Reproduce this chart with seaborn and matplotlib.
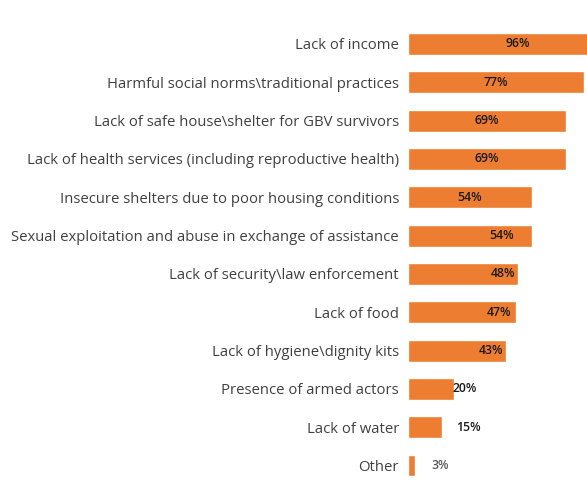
import matplotlib
matplotlib.use("Agg")
import matplotlib.pyplot as plt
import seaborn as sns
import pandas as pd

categories = [
    "Lack of income",
    "Harmful social norms\\traditional practices",
    "Lack of safe house\\shelter for GBV survivors",
    "Lack of health services (including reproductive health)",
    "Insecure shelters due to poor housing conditions",
    "Sexual exploitation and abuse in exchange of assistance",
    "Lack of security\\law enforcement",
    "Lack of food",
    "Lack of hygiene\\dignity kits",
    "Presence of armed actors",
    "Lack of water",
    "Other",
]
values = [96, 77, 69, 69, 54, 54, 48, 47, 43, 20, 15, 3]
value_labels = ["96%", "77%", "69%", "69%", "54%", "54%", "48%", "47%", "43%", "20%", "15%", "3%"]

# label anchor positions (layout, in axis % units, as placed in the original)
label_pos = [48, 38.5, 34.5, 34.5, 27, 41, 41.5, 39.7, 36.2, 24.9, 26.6, 14]

sns.set_theme(style="white")
plt.rcParams["font.family"] = ["Open Sans", "DejaVu Sans"]

df = pd.DataFrame({"category": categories, "value": values})

fig = plt.figure(figsize=(5.87, 4.87), dpi=100)
ax = fig.add_axes([0.695, 0.0047, 0.305, 0.9443])
sns.barplot(data=df, y="category", x="value", orient="h", color="#ED7D31",
            saturation=1, width=0.57, ax=ax)
ax.set_xlim(0, 78.2)
ax.set_ylim(len(categories) - 0.5, -0.5)
ax.set_xlabel("")
ax.set_ylabel("")
ax.set_xticks([])
for s in ax.spines.values():
    s.set_visible(False)
ax.tick_params(axis="y", length=0, pad=6.5, labelsize=10.75, labelcolor="#404040")

for i, (lbl, px) in enumerate(zip(value_labels, label_pos)):
    ax.text(px, i, lbl, ha="center", va="center", fontsize=8.8,
            fontweight="semibold", color="#595959" if lbl == "3%" else "#1a1a1a",
            clip_on=False)

fig.savefig("out.png", dpi=100)
